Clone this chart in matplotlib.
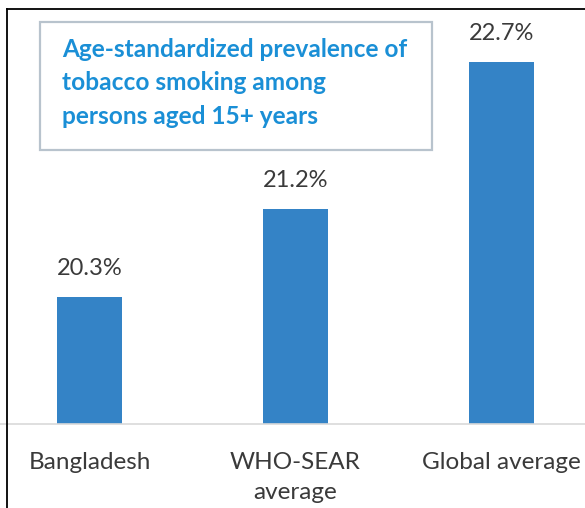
import matplotlib
matplotlib.use("Agg")
import matplotlib.pyplot as plt
from matplotlib.patches import Rectangle
from matplotlib.lines import Line2D

categories = ["Bangladesh", "WHO-SEAR\naverage", "Global average"]
values = [20.3, 21.2, 22.7]
value_labels = ["20.3%", "21.2%", "22.7%"]
title_text = "Age-standardized prevalence of\ntobacco smoking among\npersons aged 15+ years"

W, H = 585, 508
fig = plt.figure(figsize=(W / 100, H / 100), dpi=100)
fig.patch.set_facecolor("white")

base_px = 424
ax = fig.add_axes([0, (H - base_px) / H, 1, base_px / H])
ax.set_facecolor("none")
px_per_unit = 97.8
ymin = 19.0
ax.set_ylim(ymin, ymin + base_px / px_per_unit)
spacing = 206.0
x0 = 89.5
ax.set_xlim((0 - x0) / spacing, (W - x0) / spacing)

bar_color = "#3483c6"
xs = list(range(len(categories)))
ax.bar(xs, [v - ymin for v in values], bottom=ymin, width=65 / spacing, color=bar_color)

for x, v, lab in zip(xs, values, value_labels):
    ax.annotate(lab, (x, v), xytext=(0, 13), textcoords="offset points",
                ha="center", va="bottom", fontsize=17, color="#3a3a3a",
                family="Lato")

for s in ["top", "left", "right"]:
    ax.spines[s].set_visible(False)
ax.spines["bottom"].set_color("#d9d9d9")
ax.spines["bottom"].set_linewidth(1.2)
ax.set_yticks([])
ax.set_xticks(xs)
ax.set_xticklabels(categories, fontsize=17.5, color="#3a3a3a", family="Lato",
                   linespacing=1.55)
ax.tick_params(axis="x", length=0, pad=20)
ax.set_ylabel("")

# outer frame (left and top edges)
fx = 7 / W
fy = 1 - 9 / H
fig.add_artist(Line2D([fx, fx], [0, fy], transform=fig.transFigure, color="black", lw=1.3))
fig.add_artist(Line2D([fx, 1], [fy, fy], transform=fig.transFigure, color="black", lw=1.3))

# title box
bx0, by0, bx1, by1 = 40, 22, 432, 150
fig.add_artist(Rectangle((bx0 / W, 1 - by1 / H), (bx1 - bx0) / W, (by1 - by0) / H,
                         transform=fig.transFigure, facecolor="white",
                         edgecolor="#b8c3cd", lw=1.6))
fig.text(62 / W, 1 - 83 / H, title_text, ha="left", va="center", fontsize=17.6,
         fontweight="bold", color="#1a8fd6", family="Lato", linespacing=1.55)

fig.savefig("out.png", dpi=100)
